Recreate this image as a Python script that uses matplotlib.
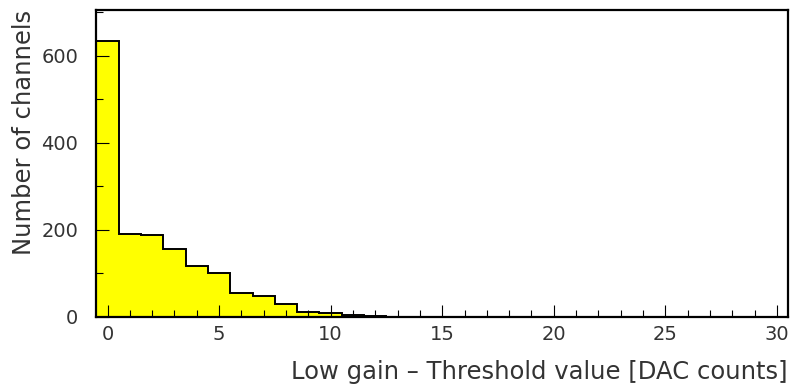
import matplotlib
matplotlib.use("Agg")
import matplotlib.pyplot as plt
import numpy as np
from matplotlib.ticker import MultipleLocator

# threshold bins (DAC counts) and number of channels per bin
thresholds = list(range(0, 31))
channels = [635, 190, 188, 156, 116, 100, 56, 48, 29, 11, 8, 5, 2, 1, 1,
            0, 0, 0, 0, 0, 0, 0, 0, 0, 0, 0, 0, 0, 0, 0, 0]

txtcol = "#333333"
plt.rcParams["font.family"] = "DejaVu Sans"

fig = plt.figure(figsize=(7.9, 3.87), dpi=100)
ax = fig.add_axes([0.122, 0.181, 0.8755, 0.793])

edges = np.arange(thresholds[0] - 0.5, thresholds[-1] + 1.5, 1.0)
ax.stairs(channels, edges, fill=True, color="#ffff00", linewidth=0)
ax.stairs(channels, edges, color="black", linewidth=1.4)

ax.set_xlim(-0.5, 30.5)
ax.set_ylim(0, 705)

ax.xaxis.set_major_locator(MultipleLocator(5))
ax.xaxis.set_minor_locator(MultipleLocator(1))
ax.yaxis.set_major_locator(MultipleLocator(200))
ax.yaxis.set_minor_locator(MultipleLocator(100))
ax.tick_params(which="both", direction="in", top=False, right=False,
               colors="black", labelcolor=txtcol, labelsize=14)
ax.tick_params(which="major", length=9, width=0.8)
ax.tick_params(which="minor", length=5, width=0.8)
ax.tick_params(axis="x", which="major", pad=6)
ax.tick_params(axis="y", which="major", pad=13)

for s in ax.spines.values():
    s.set_linewidth(1.6)

fig.text(0.9975, 0.04, "Low gain \u2013 Threshold value [DAC counts]",
         ha="right", va="center", fontsize=17.5, color=txtcol)
fig.text(0.030, 0.974, "Number of channels", rotation=90,
         ha="center", va="top", fontsize=17.5, color=txtcol)

fig.savefig("out.png", dpi=100)
